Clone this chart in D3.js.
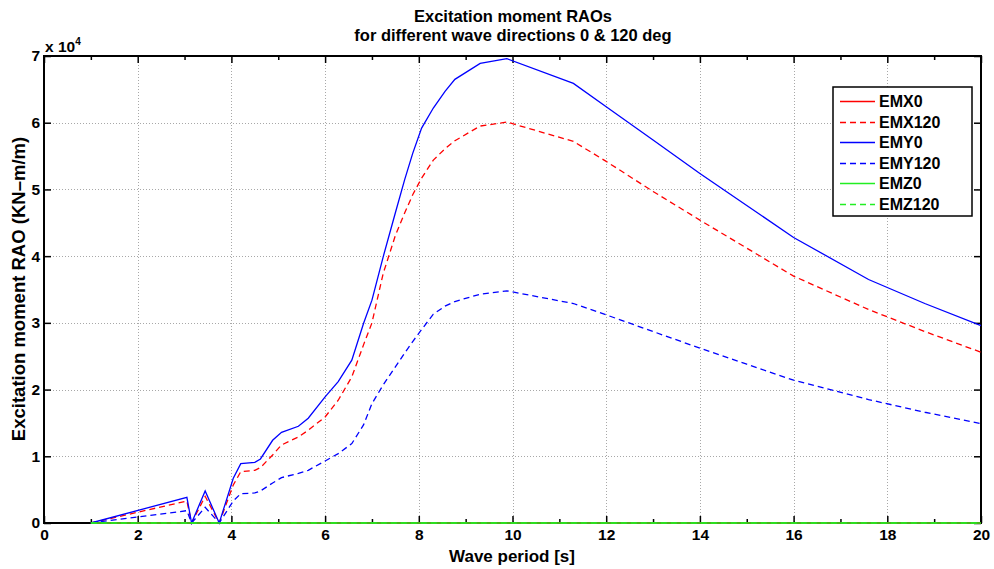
<!DOCTYPE html>
<html>
<head>
<meta charset="utf-8">
<script src="https://cdn.jsdelivr.net/npm/d3@7"></script>
<style>
  body { margin: 0; background: #fff; }
  svg text { font-family: "Liberation Sans", Arial, sans-serif; font-weight: bold; }
</style>
</head>
<body>
<div id="svgDiv" style="width:994px;height:569px;"></div>
<script>
// wave periods [s]
var periods = [1.0, 3.05, 3.15, 3.44, 3.74, 4.04, 4.2, 4.5, 4.62, 4.88,
               5.07, 5.43, 5.64, 6.0, 6.28, 6.57, 6.82, 7.0, 7.24, 7.5,
               7.7, 7.87, 8.06, 8.31, 8.56, 8.77, 9.31, 9.88, 11.3, 12.0,
               13.0, 14.0, 15.0, 16.0, 17.6, 18.8, 20.0];

// excitation moment RAOs (KN-m/m)
var emx0   = [0, 0, 0, 0, 0, 0, 0, 0, 0, 0, 0, 0, 0, 0, 0, 0, 0, 0, 0, 0,
              0, 0, 0, 0, 0, 0, 0, 0, 0, 0, 0, 0, 0, 0, 0, 0, 0];
var emx120 = [0, 3300, 0, 4000, 0, 5700, 7700, 7900, 8300, 10200,
              11700, 12900, 13900, 15900, 18400, 21900, 26700, 30000, 37400, 43100,
              46500, 49200, 51700, 54400, 56100, 57300, 59500, 60100, 57200, 54200,
              49700, 45400, 41200, 37000, 32000, 28700, 25600];
var emy0   = [0, 3850, 0, 4800, 0, 6700, 8900, 9100, 9600, 12400,
              13600, 14500, 15700, 18900, 21200, 24400, 29900, 33400, 39900, 46500,
              51500, 55400, 59200, 62200, 64700, 66500, 68900, 69600, 65900, 62400,
              57400, 52400, 47600, 42800, 36500, 32900, 29600];
var emy120 = [0, 1850, 0, 2350, 0, 3300, 4400, 4500, 4800, 6000,
              6800, 7450, 7900, 9300, 10400, 11900, 14700, 17900, 20700, 23400,
              25500, 27200, 29000, 31300, 32500, 33200, 34300, 34800, 32900, 31200,
              28700, 26200, 23800, 21400, 18500, 16600, 14900];
var emz0   = [0, 0, 0, 0, 0, 0, 0, 0, 0, 0, 0, 0, 0, 0, 0, 0, 0, 0, 0, 0,
              0, 0, 0, 0, 0, 0, 0, 0, 0, 0, 0, 0, 0, 0, 0, 0, 0];
var emz120 = [0, 0, 0, 0, 0, 0, 0, 0, 0, 0, 0, 0, 0, 0, 0, 0, 0, 0, 0, 0,
              0, 0, 0, 0, 0, 0, 0, 0, 0, 0, 0, 0, 0, 0, 0, 0, 0];

var seriesNames = ["EMX0", "EMX120", "EMY0", "EMY120", "EMZ0", "EMZ120"];
var xTicks = [0, 2, 4, 6, 8, 10, 12, 14, 16, 18, 20];
var xMinorTicks = [1, 3, 5, 7, 9, 11, 13, 15, 17, 19];
var yTicks = [0, 10000, 20000, 30000, 40000, 50000, 60000, 70000];

var svgWidth = 994, svgHeight = 569;
var plotLeft = 44, plotRight = 981, plotTop = 56, plotBottom = 523;

var series = [
    {name: seriesNames[0], values: emx0,   color: "#ff0000", dash: null},
    {name: seriesNames[1], values: emx120, color: "#ff0000", dash: "6,4"},
    {name: seriesNames[2], values: emy0,   color: "#0000ff", dash: null},
    {name: seriesNames[3], values: emy120, color: "#0000ff", dash: "6,4"},
    {name: seriesNames[4], values: emz0,   color: "#22ee22", dash: null},
    {name: seriesNames[5], values: emz120, color: "#22ee22", dash: "6,4"}
];

var svg = d3.select("#svgDiv")
    .append("svg")
    .attr("width", svgWidth)
    .attr("height", svgHeight);

var x = d3.scaleLinear().domain([0, 20]).range([plotLeft, plotRight]);
var y = d3.scaleLinear().domain([0, 70000]).range([plotBottom, plotTop]);

//dotted grid
var grid = svg.append("g")
    .attr("stroke", "#a8a8a8")
    .attr("stroke-width", 1)
    .attr("stroke-dasharray", "1,2");
grid.selectAll(".gx")
    .data(xTicks.slice(1, -1))
    .enter().append("line")
    .attr("x1", function(d){ return Math.round(x(d)) + 0.5; })
    .attr("x2", function(d){ return Math.round(x(d)) + 0.5; })
    .attr("y1", plotTop)
    .attr("y2", plotBottom);
grid.selectAll(".gy")
    .data(yTicks.slice(1, -1))
    .enter().append("line")
    .attr("x1", plotLeft)
    .attr("x2", plotRight)
    .attr("y1", function(d){ return Math.round(y(d)) + 0.5; })
    .attr("y2", function(d){ return Math.round(y(d)) + 0.5; });

//axes with inward ticks
function styleAxis(g) {
    g.select(".domain").remove();
    g.selectAll(".tick line").attr("stroke", "#000").attr("stroke-width", 1.5);
    g.selectAll("text").attr("font-size", "15.5px").attr("fill", "#000");
}

svg.append("g")
    .attr("transform", "translate(0," + plotBottom + ")")
    .call(d3.axisBottom(x).tickValues(xTicks).tickSize(-7).tickPadding(6).tickFormat(d3.format("d")))
    .call(styleAxis);
svg.append("g")
    .attr("transform", "translate(0," + plotBottom + ")")
    .call(d3.axisBottom(x).tickValues(xMinorTicks).tickSize(-4).tickFormat(""))
    .call(styleAxis);
svg.append("g")
    .attr("transform", "translate(0," + plotTop + ")")
    .call(d3.axisTop(x).tickValues(xTicks).tickSize(-7).tickFormat(""))
    .call(styleAxis);
svg.append("g")
    .attr("transform", "translate(0," + plotTop + ")")
    .call(d3.axisTop(x).tickValues(xMinorTicks).tickSize(-4).tickFormat(""))
    .call(styleAxis);
svg.append("g")
    .attr("transform", "translate(" + plotLeft + ",0)")
    .call(d3.axisLeft(y).tickValues(yTicks).tickSize(-7).tickPadding(4)
        .tickFormat(function(d){ return d / 10000; }))
    .call(styleAxis);
svg.append("g")
    .attr("transform", "translate(" + plotRight + ",0)")
    .call(d3.axisRight(y).tickValues(yTicks).tickSize(-7).tickFormat(""))
    .call(styleAxis);

//box
svg.append("rect")
    .attr("x", plotLeft)
    .attr("y", plotTop)
    .attr("width", plotRight - plotLeft)
    .attr("height", plotBottom - plotTop)
    .attr("fill", "none")
    .attr("stroke", "#000")
    .attr("stroke-width", 2);

//series lines (drawn over the box, like the green zero lines)
var line = d3.line()
    .x(function(d, i){ return x(periods[i]); })
    .y(function(d){ return y(d); });

svg.append("g").selectAll("path")
    .data(series)
    .enter().append("path")
    .attr("d", function(d){ return line(d.values); })
    .attr("fill", "none")
    .attr("stroke", function(d){ return d.color; })
    .attr("stroke-width", 1.3)
    .attr("stroke-dasharray", function(d){ return d.dash; });

//exponent label
var expo = svg.append("text")
    .attr("x", plotLeft + 1)
    .attr("y", 52)
    .attr("font-size", "15.5px");
expo.append("tspan").text("x 10");
expo.append("tspan").attr("dy", -7).attr("font-size", "10px").text("4");

//titles
svg.append("text")
    .attr("x", 513)
    .attr("y", 22)
    .attr("text-anchor", "middle")
    .attr("font-size", "16.5px")
    .text("Excitation moment RAOs");
svg.append("text")
    .attr("x", 513)
    .attr("y", 41)
    .attr("text-anchor", "middle")
    .attr("font-size", "16.5px")
    .text("for different wave directions 0 & 120 deg");
svg.append("text")
    .attr("x", 512)
    .attr("y", 562)
    .attr("text-anchor", "middle")
    .attr("font-size", "17px")
    .text("Wave period [s]");
svg.append("text")
    .attr("transform", "translate(25,289) rotate(-90)")
    .attr("text-anchor", "middle")
    .attr("font-size", "18.5px")
    .text("Excitation moment RAO (KN\u2013m/m)");

//legend
var legend = svg.append("g").attr("transform", "translate(833,87)");
legend.append("rect")
    .attr("width", 139)
    .attr("height", 129)
    .attr("fill", "#fff")
    .attr("stroke", "#000")
    .attr("stroke-width", 1.5);
var items = legend.selectAll(".item")
    .data(series)
    .enter().append("g")
    .attr("transform", function(d, i){ return "translate(0," + (Math.round(14 + i * 20.6) + 0.5) + ")"; });
items.append("line")
    .attr("x1", 7)
    .attr("x2", 42)
    .attr("stroke", function(d){ return d.color; })
    .attr("stroke-width", 1.5)
    .attr("stroke-dasharray", function(d){ return d.dash; });
items.append("text")
    .attr("x", 46)
    .attr("y", 5.5)
    .attr("font-size", "16px")
    .text(function(d){ return d.name; });
</script>
</body>
</html>
